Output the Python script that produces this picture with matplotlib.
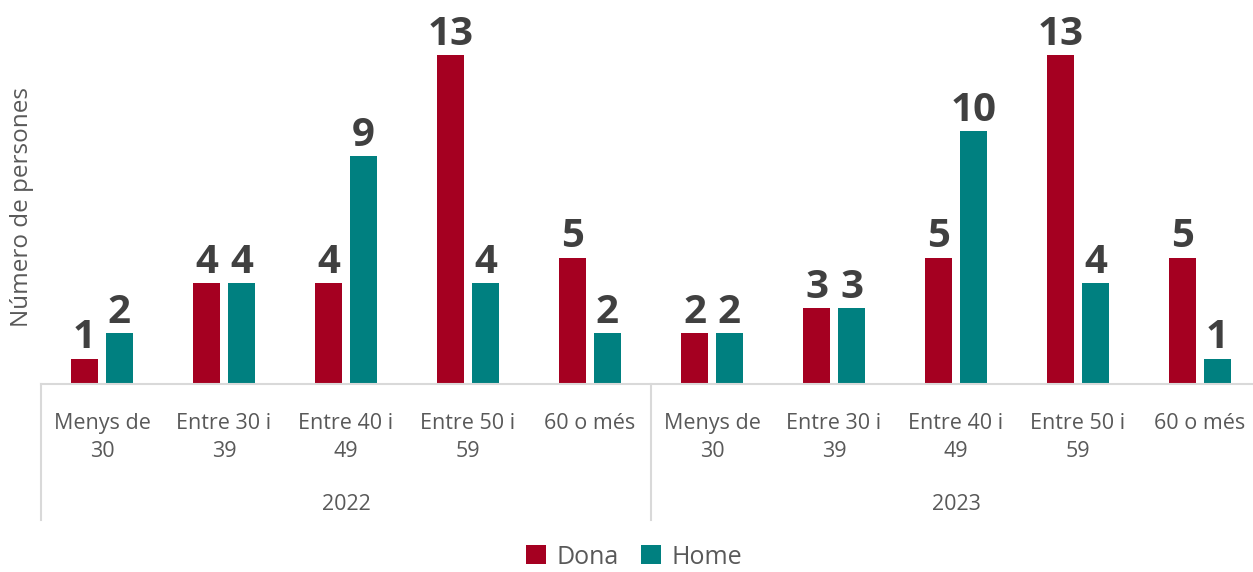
import matplotlib
matplotlib.use("Agg")
import matplotlib.pyplot as plt
import numpy as np

years = ["2022", "2023"]
age_groups = ["Menys de\n30", "Entre 30 i\n39", "Entre 40 i\n49", "Entre 50 i\n59", "60 o més"]
dona = [1, 4, 4, 13, 5, 2, 3, 5, 13, 5]
home = [2, 4, 9, 4, 2, 2, 3, 10, 4, 1]

c_dona = "#A50021"
c_home = "#008080"
txt = "#595959"
lab = "#404040"

plt.rcParams['font.family'] = ['Open Sans', 'DejaVu Sans']

W, H = 1253, 572
fig = plt.figure(figsize=(W / 100, H / 100), dpi=100)
left_px, right_px, base_px = 41, 1261, 384
ax = fig.add_axes([left_px / W, (H - base_px) / H, (right_px - left_px) / W, base_px / H])

n = len(dona)
x = np.arange(n)
bw = 0.22
off = 0.143
ax.bar(x - off, dona, bw, color=c_dona, label="Dona")
ax.bar(x + off, home, bw, color=c_home, label="Home")

for xi, v in zip(x, dona):
    ax.text(xi - off, v + 0.05, str(v), ha="center", va="bottom", fontsize=29, fontweight="bold", color=lab)
for xi, v in zip(x, home):
    ax.text(xi + off, v + 0.05, str(v), ha="center", va="bottom", fontsize=29, fontweight="bold", color=lab)

ax.set_xlim(-0.5, n - 0.5)
ax.set_ylim(0, base_px / 25.3)
for s in ["top", "right", "left"]:
    ax.spines[s].set_visible(False)
ax.spines["bottom"].set_color("#d9d9d9")
ax.spines["bottom"].set_linewidth(1.5)
ax.set_yticks([])
ax.set_xticks(x)
ax.set_xticklabels(age_groups * len(years), fontsize=15.5, color=txt, linespacing=1.42)
ax.tick_params(axis="x", length=0, pad=21)

ax.set_ylabel("Número de persones", fontsize=17.5, color=txt)
ax.yaxis.set_label_coords(-(41 - 34) / (right_px - left_px), 1 - 207 / base_px)

# group separators and year labels
trans = ax.get_xaxis_transform()
sep_len = (520 - base_px) / base_px
for xs in [-0.5, 4.5, 9.5]:
    ax.plot([xs, xs], [0, -sep_len], transform=trans, color="#d9d9d9", lw=1.5, clip_on=False)
for i, yr in enumerate(years):
    ax.text(2 + 5 * i, -(505 - base_px) / base_px, yr, transform=trans, ha="center", va="center",
            fontsize=15.5, color=txt)

fig.legend(loc="center", bbox_to_anchor=(634 / W, 1 - 557 / H), ncol=2, frameon=False,
           fontsize=18, handlelength=0.8, handleheight=0.8, handletextpad=0.4, columnspacing=0.9,
           labelcolor=txt)

fig.savefig("out.png", dpi=100)
